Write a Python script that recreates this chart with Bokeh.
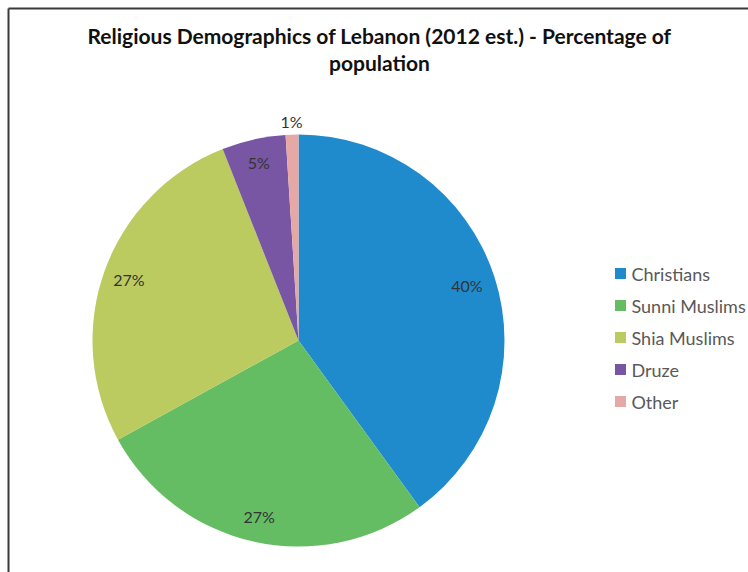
import math
from bokeh.plotting import figure
from bokeh.models import Range1d
from bokeh.core.properties import value
from bokeh.embed import file_html
from bokeh.resources import INLINE

# ---- data ----
categories = ["Christians", "Sunni Muslims", "Shia Muslims", "Druze", "Other"]
percentages = [40, 27, 27, 5, 1]
colors = ["#1f8bcc", "#64bd63", "#bccb5f", "#7856a3", "#e6a8a5"]
label_texts = ["40%", "27%", "27%", "5%", "1%"]
title_lines = ["Religious Demographics of Lebanon (2012 est.) - Percentage of", "population"]

W, H = 748, 572
FONT = "Lato"

p = figure(width=W, height=H, output_backend="svg", toolbar_location=None,
           x_range=Range1d(0, W), y_range=Range1d(0, H), min_border=0)
p.axis.visible = False
p.grid.visible = False
p.outline_line_color = None
p.background_fill_color = "white"
p.border_fill_color = "white"

def Y(py):
    return H - py

# frame lines (top and left)
p.segment(x0=[8, 8], y0=[Y(8), Y(8)], x1=[W + 5, 8], y1=[Y(8), -5],
          line_color="#3a3a3a", line_width=2)

# pie
cx, cy, R = 298, Y(340), 206
total = sum(percentages)
starts, ends, mids = [], [], []
cum = 0.0
for v in percentages:
    a0 = cum / total * 2 * math.pi
    cum += v
    a1 = cum / total * 2 * math.pi
    starts.append(math.pi / 2 - a0)
    ends.append(math.pi / 2 - a1)
    mids.append(math.pi / 2 - (a0 + a1) / 2)

p.wedge(x=cx, y=cy, radius=R, start_angle=starts, end_angle=ends,
        direction="clock", fill_color=colors, line_color=None)

# data labels
lr = [0.86, 0.875, 0.875, 0.885, 1.065]
lx = [cx + R * f * math.cos(m) for f, m in zip(lr, mids)]
ly = [cy + R * f * math.sin(m) for f, m in zip(lr, mids)]
p.text(x=lx, y=ly, text=label_texts, text_font=value(FONT), text_font_size="16px",
       text_color="#333333", text_align="center", text_baseline="middle")

# title
p.text(x=[379, 379], y=[Y(35), Y(62)], text=title_lines, text_font=value(FONT),
       text_font_size="21px", text_font_style="bold", text_color="#111111",
       text_align="center", text_baseline="middle")

# legend
lg_x, lg_y0, lg_dy = 620, 273, 32
ys = [Y(lg_y0 + i * lg_dy) for i in range(len(categories))]
p.rect(x=[lg_x] * len(categories), y=ys, width=11, height=11,
       fill_color=colors, line_color=None)
p.text(x=[lg_x + 11] * len(categories), y=ys, text=categories, text_font=value(FONT),
       text_font_size="18px", text_color="#595959", text_align="left",
       text_baseline="middle")

open("out.html", "w").write(file_html(p, INLINE))
